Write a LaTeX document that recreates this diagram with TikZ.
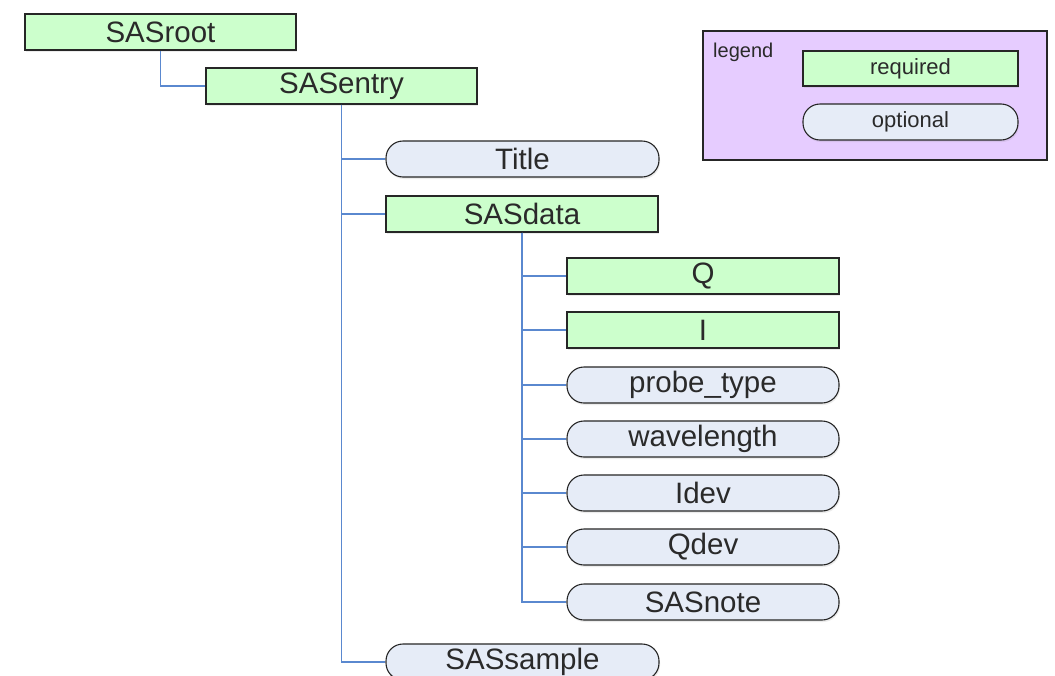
\documentclass[tikz,border=0pt]{standalone}
\usepackage{fontspec}
\setmainfont{Liberation Sans}
\usetikzlibrary{shadows}
\definecolor{reqfill}{HTML}{CCFFCC}
\definecolor{optfill}{HTML}{E6ECF7}
\definecolor{legfill}{HTML}{E6CCFF}
\definecolor{conn}{HTML}{5A88CF}
\definecolor{txt}{HTML}{2A2A2A}
\tikzset{
  base/.style={draw=black!85, line width=1.1pt, minimum height=36pt, inner sep=0pt, text=txt,
    font=\fontsize{29.5}{31}\selectfont,
    drop shadow={opacity=0.15, shadow xshift=1pt, shadow yshift=-2pt}},
  req/.style={base, fill=reqfill, rectangle},
  opt/.style={base, fill=optfill, rectangle, rounded corners=17pt},
  conn/.style={draw=conn, line width=1.2pt},
  small/.style={font=\fontsize{22}{24}\selectfont}
}
\begin{document}
\begin{tikzpicture}[x=1pt,y=-1pt]
\clip (0,0) rectangle (1055,675);
\fill[white] (0,0) rectangle (1055,675);
% legend
\node[draw=black!85, line width=1.1pt, fill=legfill, minimum width=344pt, minimum height=129pt, inner sep=0pt] (legendbox) at (875,95.5) {};
\node[anchor=west, inner sep=0pt, text=txt, font=\fontsize{20}{22}\selectfont] (legendlbl) at (713,52) {legend};
\node[req, small, minimum width=215pt, minimum height=35pt] (required) at (910.5,68.5) {required};
\node[opt, small, minimum width=215pt, minimum height=36pt] (optional) at (910.5,122) {optional};
% tree
\node[req, minimum width=271pt] (SASroot) at (160.5,32) {SASroot};
\node[req, minimum width=271pt] (SASentry) at (341.5,86) {SASentry};
\node[opt, minimum width=273pt] (Title) at (522.5,159) {Title};
\node[req, minimum width=272pt] (SASdata) at (522,214) {SASdata};
\node[req, minimum width=272pt] (Q) at (703,276) {Q};
\node[req, minimum width=272pt] (I) at (703,330) {I};
\node[opt, minimum width=272pt] (probe) at (703,385) {probe\_type};
\node[opt, minimum width=272pt] (wavelength) at (703,439) {wavelength};
\node[opt, minimum width=272pt] (Idev) at (703,493) {Idev};
\node[opt, minimum width=272pt] (Qdev) at (703,547) {Qdev};
\node[opt, minimum width=272pt] (SASnote) at (703,602) {SASnote};
\node[opt, minimum width=273pt] (SASsample) at (522.5,662) {SASsample};
% connectors
\draw[conn] (SASroot.south) |- (SASentry.west);
\foreach \n in {Title,SASdata,SASsample}
  \draw[conn] (SASentry.south) |- (\n.west);
\foreach \n in {Q,I,probe,wavelength,Idev,Qdev,SASnote}
  \draw[conn] (SASdata.south) |- (\n.west);
\end{tikzpicture}
\end{document}
